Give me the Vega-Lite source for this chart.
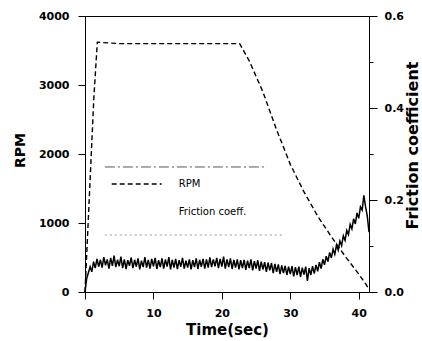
{
  "$schema": "https://vega.github.io/schema/vega-lite/v6.json",
  "width": 284,
  "height": 276,
  "autosize": {"type": "none"},
  "padding": {"left": 85, "top": 16, "right": 53, "bottom": 49},
  "background": "white",
  "config": {
    "view": {"stroke": "black", "strokeWidth": 1},
    "font": "DejaVu Sans",
    "axis": {
      "grid": false,
      "domainColor": "black",
      "tickColor": "black",
      "labelColor": "black",
      "titleColor": "black",
      "labelFont": "DejaVu Sans",
      "labelFontWeight": "bold",
      "labelFontSize": 11,
      "titleFont": "DejaVu Sans",
      "titleFontWeight": "bold",
      "titleFontSize": 14,
      "labelOverlap": false
    }
  },
  "datasets": {
    "rpm": [
      {"time": 0, "rpm": 0}, {"time": 0.3, "rpm": 650}, {"time": 1.3, "rpm": 2830}, {"time": 1.8, "rpm": 3620},
      {"time": 5, "rpm": 3600}, {"time": 10, "rpm": 3600}, {"time": 15, "rpm": 3600}, {"time": 20, "rpm": 3600},
      {"time": 22.6, "rpm": 3600}, {"time": 24, "rpm": 3350}, {"time": 26, "rpm": 2900}, {"time": 28, "rpm": 2350},
      {"time": 30, "rpm": 1850}, {"time": 32, "rpm": 1450}, {"time": 34, "rpm": 1100}, {"time": 36, "rpm": 800},
      {"time": 38, "rpm": 520}, {"time": 40, "rpm": 260}, {"time": 41, "rpm": 120}, {"time": 41.5, "rpm": 40}
    ],
    "friction": [
      {"time": 0, "coeff": 0.000}, {"time": 0.25, "coeff": 0.030}, {"time": 0.5, "coeff": 0.042}, {"time": 0.75, "coeff": 0.055},
      {"time": 1.0, "coeff": 0.044}, {"time": 1.25, "coeff": 0.066}, {"time": 1.5, "coeff": 0.052}, {"time": 1.75, "coeff": 0.072},
      {"time": 2.0, "coeff": 0.055}, {"time": 2.25, "coeff": 0.070}, {"time": 2.5, "coeff": 0.053}, {"time": 2.75, "coeff": 0.076},
      {"time": 3.0, "coeff": 0.058}, {"time": 3.25, "coeff": 0.071}, {"time": 3.5, "coeff": 0.051}, {"time": 3.75, "coeff": 0.074},
      {"time": 4.0, "coeff": 0.057}, {"time": 4.25, "coeff": 0.079}, {"time": 4.5, "coeff": 0.054}, {"time": 4.75, "coeff": 0.070},
      {"time": 5.0, "coeff": 0.056}, {"time": 5.25, "coeff": 0.077}, {"time": 5.5, "coeff": 0.052}, {"time": 5.75, "coeff": 0.071},
      {"time": 6.0, "coeff": 0.050}, {"time": 6.25, "coeff": 0.069}, {"time": 6.5, "coeff": 0.057}, {"time": 6.75, "coeff": 0.075},
      {"time": 7.0, "coeff": 0.052}, {"time": 7.25, "coeff": 0.070}, {"time": 7.5, "coeff": 0.055}, {"time": 7.75, "coeff": 0.073},
      {"time": 8.0, "coeff": 0.049}, {"time": 8.25, "coeff": 0.068}, {"time": 8.5, "coeff": 0.054}, {"time": 8.75, "coeff": 0.076},
      {"time": 9.0, "coeff": 0.053}, {"time": 9.25, "coeff": 0.070}, {"time": 9.5, "coeff": 0.051}, {"time": 9.75, "coeff": 0.072},
      {"time": 10.0, "coeff": 0.056}, {"time": 10.25, "coeff": 0.074}, {"time": 10.5, "coeff": 0.050}, {"time": 10.75, "coeff": 0.069},
      {"time": 11.0, "coeff": 0.054}, {"time": 11.25, "coeff": 0.073}, {"time": 11.5, "coeff": 0.051}, {"time": 11.75, "coeff": 0.071},
      {"time": 12.0, "coeff": 0.055}, {"time": 12.25, "coeff": 0.076}, {"time": 12.5, "coeff": 0.049}, {"time": 12.75, "coeff": 0.070},
      {"time": 13.0, "coeff": 0.053}, {"time": 13.25, "coeff": 0.072}, {"time": 13.5, "coeff": 0.050}, {"time": 13.75, "coeff": 0.069},
      {"time": 14.0, "coeff": 0.055}, {"time": 14.25, "coeff": 0.074}, {"time": 14.5, "coeff": 0.051}, {"time": 14.75, "coeff": 0.068},
      {"time": 15.0, "coeff": 0.053}, {"time": 15.25, "coeff": 0.071}, {"time": 15.5, "coeff": 0.049}, {"time": 15.75, "coeff": 0.069},
      {"time": 16.0, "coeff": 0.054}, {"time": 16.25, "coeff": 0.073}, {"time": 16.5, "coeff": 0.050}, {"time": 16.75, "coeff": 0.070},
      {"time": 17.0, "coeff": 0.055}, {"time": 17.25, "coeff": 0.072}, {"time": 17.5, "coeff": 0.051}, {"time": 17.75, "coeff": 0.071},
      {"time": 18.0, "coeff": 0.053}, {"time": 18.25, "coeff": 0.075}, {"time": 18.5, "coeff": 0.054}, {"time": 18.75, "coeff": 0.071},
      {"time": 19.0, "coeff": 0.056}, {"time": 19.25, "coeff": 0.074}, {"time": 19.5, "coeff": 0.052}, {"time": 19.75, "coeff": 0.072},
      {"time": 20.0, "coeff": 0.055}, {"time": 20.25, "coeff": 0.077}, {"time": 20.5, "coeff": 0.051}, {"time": 20.75, "coeff": 0.071},
      {"time": 21.0, "coeff": 0.054}, {"time": 21.25, "coeff": 0.073}, {"time": 21.5, "coeff": 0.050}, {"time": 21.75, "coeff": 0.070},
      {"time": 22.0, "coeff": 0.053}, {"time": 22.25, "coeff": 0.071}, {"time": 22.5, "coeff": 0.049}, {"time": 22.75, "coeff": 0.069},
      {"time": 23.0, "coeff": 0.052}, {"time": 23.25, "coeff": 0.070}, {"time": 23.5, "coeff": 0.048}, {"time": 23.75, "coeff": 0.068},
      {"time": 24.0, "coeff": 0.052}, {"time": 24.25, "coeff": 0.071}, {"time": 24.5, "coeff": 0.047}, {"time": 24.75, "coeff": 0.067},
      {"time": 25.0, "coeff": 0.051}, {"time": 25.25, "coeff": 0.069}, {"time": 25.5, "coeff": 0.046}, {"time": 25.75, "coeff": 0.066},
      {"time": 26.0, "coeff": 0.049}, {"time": 26.25, "coeff": 0.065}, {"time": 26.5, "coeff": 0.044}, {"time": 26.75, "coeff": 0.064},
      {"time": 27.0, "coeff": 0.047}, {"time": 27.25, "coeff": 0.063}, {"time": 27.5, "coeff": 0.041}, {"time": 27.75, "coeff": 0.061},
      {"time": 28.0, "coeff": 0.044}, {"time": 28.25, "coeff": 0.060}, {"time": 28.5, "coeff": 0.039}, {"time": 28.75, "coeff": 0.058},
      {"time": 29.0, "coeff": 0.041}, {"time": 29.25, "coeff": 0.057}, {"time": 29.5, "coeff": 0.037}, {"time": 29.75, "coeff": 0.055},
      {"time": 30.0, "coeff": 0.039}, {"time": 30.25, "coeff": 0.056}, {"time": 30.5, "coeff": 0.034}, {"time": 30.75, "coeff": 0.054},
      {"time": 31.0, "coeff": 0.037}, {"time": 31.25, "coeff": 0.055}, {"time": 31.5, "coeff": 0.033}, {"time": 31.75, "coeff": 0.053},
      {"time": 32.0, "coeff": 0.038}, {"time": 32.25, "coeff": 0.055}, {"time": 32.5, "coeff": 0.024}, {"time": 32.75, "coeff": 0.052},
      {"time": 33.0, "coeff": 0.037}, {"time": 33.25, "coeff": 0.056}, {"time": 33.5, "coeff": 0.040}, {"time": 33.75, "coeff": 0.059},
      {"time": 34.0, "coeff": 0.045}, {"time": 34.25, "coeff": 0.065}, {"time": 34.5, "coeff": 0.051}, {"time": 34.75, "coeff": 0.071},
      {"time": 35.0, "coeff": 0.059}, {"time": 35.25, "coeff": 0.078}, {"time": 35.5, "coeff": 0.066}, {"time": 35.75, "coeff": 0.086},
      {"time": 36.0, "coeff": 0.074}, {"time": 36.25, "coeff": 0.093}, {"time": 36.5, "coeff": 0.082}, {"time": 36.75, "coeff": 0.102},
      {"time": 37.0, "coeff": 0.091}, {"time": 37.25, "coeff": 0.111}, {"time": 37.5, "coeff": 0.101}, {"time": 37.75, "coeff": 0.122},
      {"time": 38.0, "coeff": 0.112}, {"time": 38.25, "coeff": 0.134}, {"time": 38.5, "coeff": 0.125}, {"time": 38.75, "coeff": 0.147},
      {"time": 39.0, "coeff": 0.137}, {"time": 39.25, "coeff": 0.159}, {"time": 39.5, "coeff": 0.148}, {"time": 39.75, "coeff": 0.172},
      {"time": 40.0, "coeff": 0.160}, {"time": 40.25, "coeff": 0.185}, {"time": 40.5, "coeff": 0.178}, {"time": 40.75, "coeff": 0.210},
      {"time": 41.0, "coeff": 0.185}, {"time": 41.25, "coeff": 0.165}, {"time": 41.5, "coeff": 0.130}
    ]
  },
  "layer": [
    {
      "layer": [
        {
          "data": {"name": "rpm"},
          "mark": {"type": "line", "color": "black", "strokeDash": [5, 3], "strokeWidth": 1.4},
          "encoding": {
            "x": {
              "field": "time", "type": "quantitative",
              "scale": {"domain": [0, 41.5], "nice": false},
              "axis": {
                "title": "Time(sec)", "titleFontSize": 15,
                "values": [0, 5, 10, 15, 20, 25, 30, 35, 40],
                "labelExpr": "datum.value % 10 === 0 ? datum.label : ''",
                "tickSize": {"condition": {"test": "datum.value % 10 === 0", "value": 7}, "value": 4},
                "labelPadding": 8, "titlePadding": 4
              }
            },
            "y": {
              "field": "rpm", "type": "quantitative",
              "scale": {"domain": [0, 4000], "nice": false},
              "axis": {
                "title": "RPM", "format": "d",
                "values": [0, 500, 1000, 1500, 2000, 2500, 3000, 3500, 4000],
                "labelExpr": "datum.value % 1000 === 0 ? datum.label : ''",
                "tickSize": {"condition": {"test": "datum.value % 1000 === 0", "value": 7}, "value": 4},
                "labelPadding": 9,
                "titleX": -65, "titleY": 134, "titleAlign": "center", "titleBaseline": "middle"
              }
            }
          }
        },
        {
          "data": {"values": [{}]},
          "mark": {"type": "rule", "color": "#555555", "strokeDash": [10, 3, 2, 3], "strokeWidth": 1},
          "encoding": {
            "x": {"datum": 2.9, "type": "quantitative"},
            "x2": {"datum": 26.6},
            "y": {"datum": 1812, "type": "quantitative"}
          }
        },
        {
          "data": {"values": [{}]},
          "mark": {"type": "rule", "color": "#999999", "strokeDash": [2, 3], "strokeWidth": 1},
          "encoding": {
            "x": {"datum": 2.9, "type": "quantitative"},
            "x2": {"datum": 28.9},
            "y": {"datum": 826, "type": "quantitative"}
          }
        },
        {
          "data": {"values": [{}]},
          "mark": {"type": "rule", "color": "black", "strokeDash": [5, 3], "strokeWidth": 1.4},
          "encoding": {
            "x": {"datum": 3.9, "type": "quantitative"},
            "x2": {"datum": 11.2},
            "y": {"datum": 1565, "type": "quantitative"}
          }
        },
        {
          "data": {"values": [{"label": "RPM", "ty": 1565}, {"label": "Friction coeff.", "ty": 1160}]},
          "mark": {"type": "text", "align": "left", "baseline": "middle", "font": "DejaVu Sans", "fontSize": 10, "color": "black"},
          "encoding": {
            "x": {"datum": 13.7, "type": "quantitative"},
            "y": {"field": "ty", "type": "quantitative"},
            "text": {"field": "label"}
          }
        }
      ]
    },
    {
      "data": {"name": "friction"},
      "mark": {"type": "line", "color": "black", "strokeWidth": 1.5},
      "encoding": {
        "x": {"field": "time", "type": "quantitative"},
        "y": {
          "field": "coeff", "type": "quantitative",
          "scale": {"domain": [0, 0.6], "nice": false},
          "axis": {
            "orient": "right", "title": "Friction coefficient", "titleFontSize": 16,
            "values": [0, 0.1, 0.2, 0.3, 0.4, 0.5, 0.6], "format": ".1f",
            "labelExpr": "(round(datum.value * 10) % 2 === 0) ? datum.label : ''",
            "tickSize": {"condition": {"test": "round(datum.value * 10) % 2 === 0", "value": 8}, "value": 4},
            "labelPadding": 7,
            "titleAngle": 270, "titleX": 43, "titleY": 129, "titleAlign": "center", "titleBaseline": "middle"
          }
        }
      }
    }
  ],
  "resolve": {"scale": {"y": "independent"}}
}
